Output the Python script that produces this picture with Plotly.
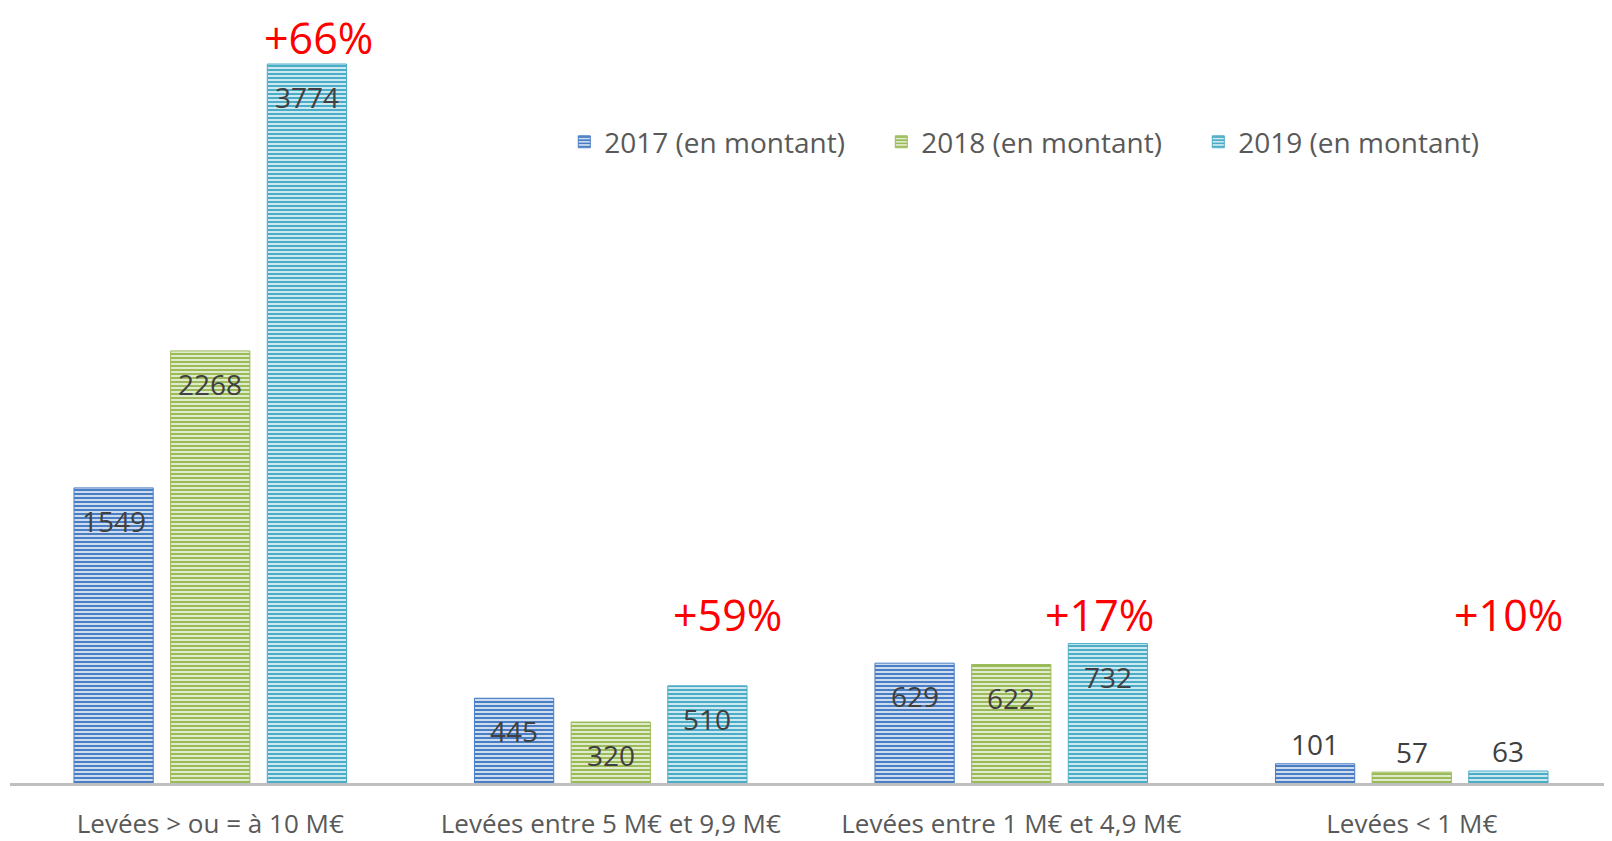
import plotly.graph_objects as go

categories = ["Levées > ou = à 10 M€", "Levées entre 5 M€ et 9,9 M€",
              "Levées entre 1 M€ et 4,9 M€", "Levées < 1 M€"]
series_names = ["2017 (en montant)", "2018 (en montant)", "2019 (en montant)"]
v2017 = [1549, 445, 629, 101]
v2018 = [2268, 320, 622, 57]
v2019 = [3774, 510, 732, 63]
growth_labels = ["+66%", "+59%", "+17%", "+10%"]

colors = ["#4A7EC4", "#9BBB59", "#4BACC6"]
tints = ["#DCE6F4", "#E8F0DA", "#DBEFF5"]
series_values = [v2017, v2018, v2019]

FONT = "Open Sans"
fig = go.Figure()
for name, vals, col, tint in zip(series_names, series_values, colors, tints):
    fig.add_trace(go.Bar(
        x=categories, y=vals, name=name,
        marker=dict(color=tint,
                    line=dict(color=col, width=1),
                    pattern=dict(shape="-", fgcolor=col, bgcolor=tint,
                                 size=4, solidity=0.55, fillmode="replace")),
        hoverinfo="skip",
    ))

annotations = []
slot = 0.2413
offsets = [-slot, 0, slot]
for s, vals in enumerate(series_values):
    for i, v in enumerate(vals):
        inside = v > 200
        annotations.append(dict(
            x=i + offsets[s], y=v, xref="x", yref="y", text=str(v),
            showarrow=False, yanchor="middle",
            yshift=-33 if inside else 20,
            font=dict(family=FONT, size=28, color="#404040")))

pct_y = [3915, 887, 887, 887]
pct_dx = [0.03, 0.05, -0.02, 0.0]
for i, t in enumerate(growth_labels):
    annotations.append(dict(
        x=i + slot + pct_dx[i], y=pct_y[i], xref="x", yref="y", text=t,
        showarrow=False, yanchor="middle", borderpad=0,
        font=dict(family=FONT, size=43, color="#FF0000")))

fig.update_layout(
    width=1612, height=841,
    margin=dict(l=2, r=8, t=12, b=66),
    paper_bgcolor="white", plot_bgcolor="white",
    barmode="group", bargap=0.276, bargroupgap=0.18,
    showlegend=True,
    legend=dict(orientation="h", x=0.346, xanchor="left", y=0.84, yanchor="middle",
                font=dict(family=FONT, size=28, color="#595959"),
                entrywidth=272, entrywidthmode="pixels",
                bgcolor="rgba(0,0,0,0)"),
    xaxis=dict(showline=True, linecolor="#BFBFBF", linewidth=3,
               showgrid=False, zeroline=False, ticks="",
               tickfont=dict(family=FONT, size=26, color="#595959"),
               ticklabelstandoff=16),
    yaxis=dict(range=[0, 4005], visible=False, showgrid=False, zeroline=False),
    annotations=annotations,
    font=dict(family=FONT),
)

fig.write_html("out.html")
